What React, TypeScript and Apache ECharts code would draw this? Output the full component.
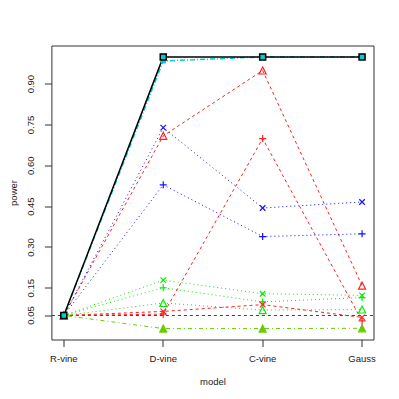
import React, { useEffect, useRef } from "react";
import * as echarts from "echarts";

const models = ["R-vine", "D-vine", "C-vine", "Gauss"];
const xPositions = [1, 2, 3, 4];
const yTicks = [0.05, 0.15, 0.3, 0.45, 0.6, 0.75, 0.9];
const alphaLevel = 0.05;

const blackSquare = [0.05, 1.0, 1.0, 1.0];
const cyanDash = [0.05, 0.985, 1.0, 1.0];
const redTriangle = [0.05, 0.71, 0.95, 0.16];
const redPlus = [0.05, 0.055, 0.7, 0.03];
const redCross = [0.05, 0.065, 0.09, 0.043];
const blueCross = [0.05, 0.74, 0.445, 0.467];
const bluePlus = [0.05, 0.53, 0.34, 0.35];
const greenCross = [0.05, 0.18, 0.13, 0.124];
const greenPlus = [0.05, 0.152, 0.1, 0.116];
const greenTriangle = [0.05, 0.096, 0.07, 0.072];
const darkGreenTriangle = [0.05, 0.002, 0.002, 0.003];

const X_MIN = 0.88;
const X_MAX = 4.12;
const Y_MIN = -0.04;
const Y_MAX = 1.04;

const CROSS = "path://M0,0L10,10M10,0L0,10";
const PLUS = "path://M5,0L5,10M0,5L10,5";

const FONT = "'Liberation Sans', Arial, sans-serif";
const TEXT = "#222";
const AXIS = "#333";
const TICK_LEN = 7;

function mk(
  name: string,
  vals: number[],
  color: string,
  dash: any,
  symbol: string,
  size: number,
  filled: boolean,
  width = 1
) {
  return {
    name,
    type: "line",
    data: vals.map((v, i) => [xPositions[i], v]),
    symbol,
    symbolSize: size,
    showSymbol: true,
    lineStyle: { color, width, type: dash },
    itemStyle: {
      color: filled ? color : "rgba(0,0,0,0)",
      borderColor: color,
      borderWidth: 1.2,
    },
    emphasis: { disabled: true },
    silent: true,
  };
}

export default function App() {
  const ref = useRef<HTMLDivElement>(null);
  useEffect(() => {
    if (!ref.current) return;
    const chart = echarts.init(ref.current, undefined, { renderer: "svg" });
    const series: any[] = [
      {
        type: "custom",
        silent: true,
        clip: false,
        z: 10,
        data: xPositions.map((x) => [x, Y_MIN]),
        renderItem: (params: any, api: any) => {
          const p = api.coord([api.value(0), api.value(1)]);
          return {
            type: "rect",
            shape: { x: Math.round(p[0]) - 0.5, y: p[1], width: 1, height: TICK_LEN },
            style: { fill: AXIS },
          };
        },
      },
      {
        type: "custom",
        silent: true,
        clip: false,
        z: 10,
        data: yTicks.map((y) => [X_MIN, y]),
        renderItem: (params: any, api: any) => {
          const p = api.coord([api.value(0), api.value(1)]);
          return {
            type: "rect",
            shape: { x: p[0] - TICK_LEN, y: Math.round(p[1]) - 0.5, width: TICK_LEN, height: 1 },
            style: { fill: AXIS },
          };
        },
      },
      {
        type: "line",
        data: [
          [X_MIN, alphaLevel],
          [X_MAX, alphaLevel],
        ],
        symbol: "none",
        lineStyle: { color: "#444", width: 1, type: [3, 3] },
        silent: true,
      },
      mk("darkgreen", darkGreenTriangle, "#66CD00", [1, 3, 4, 3], "triangle", 7, true),
      mk("gtri", greenTriangle, "#00EE00", [1, 3], "triangle", 7, false),
      mk("gplus", greenPlus, "#00EE00", [1, 3], PLUS, 7, false),
      mk("gcross", greenCross, "#00EE00", [1, 3], CROSS, 5.5, false),
      mk("rcross", redCross, "#FF2020", [3, 3], CROSS, 5.5, false),
      mk("rplus", redPlus, "#FF2020", [3, 3], PLUS, 7, false),
      mk("rtri", redTriangle, "#FF2020", [3, 3], "triangle", 7, false),
      mk("bplus", bluePlus, "#1010FF", [1, 3], PLUS, 7, false),
      mk("bcross", blueCross, "#1010FF", [1, 3], CROSS, 5.5, false),
      mk("cyan", cyanDash, "#00CDCD", [5, 2, 1, 2], "rect", 4, true, 1.5),
      {
        ...mk("black", blackSquare, "#000000", "solid", "rect", 6, true, 1.5),
        itemStyle: { color: "#00CDCD", borderColor: "#000", borderWidth: 1.5 },
      },
    ];
    chart.setOption({
      animation: false,
      textStyle: { fontFamily: FONT },
      grid: {
        left: 46,
        right: 25,
        top: 46,
        bottom: 59,
        show: true,
        borderColor: AXIS,
        borderWidth: 1,
        backgroundColor: "transparent",
      },
      xAxis: {
        type: "value",
        min: X_MIN,
        max: X_MAX,
        name: "model",
        nameLocation: "middle",
        nameGap: 36,
        nameTextStyle: { fontSize: 9.5, color: TEXT, fontFamily: FONT },
        axisLine: { show: false, onZero: false },
        splitLine: { show: false },
        axisTick: { show: false },
        axisLabel: {
          customValues: xPositions,
          formatter: (v: number) => models[Math.round(v) - 1],
          fontSize: 9.5,
          color: TEXT,
          margin: 13,
          fontFamily: FONT,
        },
      },
      yAxis: {
        type: "value",
        min: Y_MIN,
        max: Y_MAX,
        name: "power",
        nameLocation: "middle",
        nameGap: 31,
        nameTextStyle: { fontSize: 9.5, color: TEXT, fontFamily: FONT },
        axisLine: { show: false, onZero: false },
        splitLine: { show: false },
        axisTick: { show: false },
        axisLabel: {
          customValues: yTicks,
          formatter: (v: number) => v.toFixed(2),
          rotate: 90,
          fontSize: 9.5,
          color: TEXT,
          margin: 16,
          fontFamily: FONT,
        },
      },
      series,
    });
    return () => chart.dispose();
  }, []);
  return (
    <div
      ref={ref}
      style={{ position: "fixed", left: 0, top: 0, width: 399, height: 399, background: "#fff" }}
    />
  );
}
